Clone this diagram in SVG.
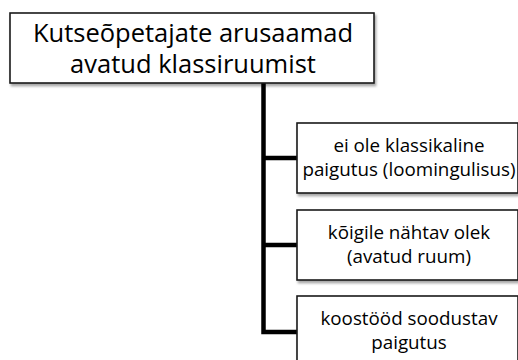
<svg xmlns="http://www.w3.org/2000/svg" width="518" height="360" viewBox="0 0 518 360">
  <defs>
    <filter id="sh" x="-10%" y="-10%" width="130%" height="140%">
      <feDropShadow dx="1.5" dy="2.5" stdDeviation="1.2" flood-color="#000" flood-opacity="0.35"/>
    </filter>
  </defs>
  <style>
    .box { fill: #ffffff; stroke: #1a1a1a; stroke-width: 1.6; filter: url(#sh); }
    .root { font-family: "Open Sans", "Liberation Sans", sans-serif; font-size: 25.5px; fill: #000; text-anchor: middle; }
    .leaf { font-family: "Open Sans", "Liberation Sans", sans-serif; font-size: 18.8px; fill: #000; text-anchor: middle; }
    .conn { fill: none; stroke: #000; stroke-width: 4.5; stroke-linejoin: miter; }
  </style>
  <rect width="518" height="360" fill="#ffffff"/>
  <g id="connectors">
    <path class="conn" d="M263.5,83 V332 H297"/>
    <path class="conn" d="M263.5,158 H297"/>
    <path class="conn" d="M263.5,245 H297"/>
  </g>
  <g id="root">
    <rect class="box" x="10" y="13" width="364" height="70"/>
    <text class="root" x="193" y="42">Kutseõpetajate arusaamad</text>
    <text class="root" x="193" y="73">avatud klassiruumist</text>
  </g>
  <g id="leaf1">
    <rect class="box" x="297" y="123" width="221" height="70"/>
    <text class="leaf" x="409" y="152">ei ole klassikaline</text>
    <text class="leaf" x="409" y="176">paigutus (loomingulisus)</text>
  </g>
  <g id="leaf2">
    <rect class="box" x="297" y="210" width="221" height="70"/>
    <text class="leaf" x="409" y="239">kõigile nähtav olek</text>
    <text class="leaf" x="409" y="263">(avatud ruum)</text>
  </g>
  <g id="leaf3">
    <rect class="box" x="297" y="296" width="221" height="70"/>
    <text class="leaf" x="409" y="325">koostööd soodustav</text>
    <text class="leaf" x="409" y="349">paigutus</text>
  </g>
</svg>
